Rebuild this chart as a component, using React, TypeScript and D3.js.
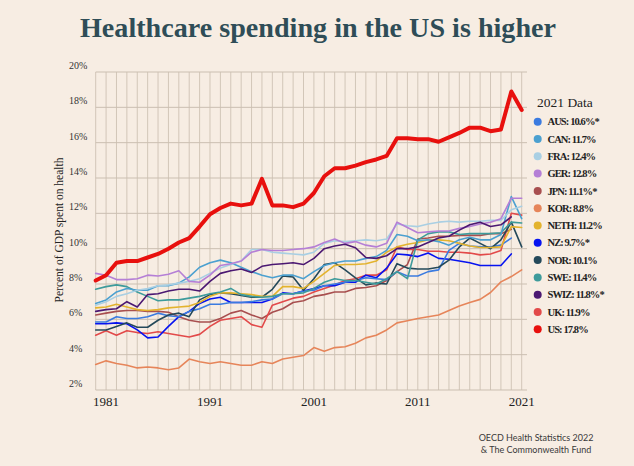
import React from "react";
import * as d3 from "d3";

const startYear = 1980;
const yTicks = [2, 4, 6, 8, 10, 12, 14, 16, 18, 20];
const xTickYears = [1981, 1991, 2001, 2011, 2021];

const countries = ["AUS", "CAN", "FRA", "GER", "JPN", "KOR", "NETH", "NZ", "NOR", "SWE", "SWIZ", "UK", "US"];
const legendLabels = ["AUS: 10.6%*", "CAN: 11.7%", "FRA: 12.4%", "GER: 12.8%", "JPN: 11.1%*", "KOR: 8.8%", "NETH: 11.2%", "NZ: 9.7%*", "NOR: 10.1%", "SWE: 11.4%", "SWIZ: 11.8%*", "UK: 11.9%", "US: 17.8%"];
const colors = ["#3b7be0", "#4ba0d0", "#a9cfe3", "#b57fd6", "#a84f4f", "#e6855a", "#e3b32e", "#0713f0", "#24495a", "#3e9b9b", "#4b1872", "#e24a4a", "#e8100e"];

// 1980 .. 2021 (series marked * end in 2020)
const AUS = [5.85, 5.85, 6.15, 6.05, 6.05, 6.15, 6.35, 6.2, 6.15, 6.45, 6.6, 6.85, 6.85, 6.95, 6.95, 7.0, 7.1, 7.15, 7.45, 7.45, 7.6, 7.65, 7.9, 8.0, 8.1, 8.2, 8.35, 8.3, 8.25, 8.7, 8.45, 8.45, 8.7, 8.8, 9.9, 10.3, 10.15, 10.1, 10.1, 10.2, 10.6];
const CAN = [6.9, 7.1, 7.55, 7.75, 7.65, 7.65, 7.9, 7.9, 8.05, 8.4, 8.95, 9.2, 9.35, 9.2, 8.95, 8.7, 8.5, 8.35, 8.5, 8.5, 8.3, 8.7, 9.05, 9.2, 9.3, 9.3, 9.45, 9.55, 9.9, 10.8, 10.7, 10.45, 10.5, 10.4, 10.2, 10.5, 10.65, 10.5, 10.5, 10.8, 12.95, 11.7];
const FRA = [6.8, 7.0, 7.3, 7.45, 7.65, 7.75, 7.9, 7.95, 8.05, 8.15, 8.3, 8.6, 8.9, 9.1, 9.3, 9.95, 9.95, 9.8, 9.75, 9.7, 9.65, 9.8, 10.3, 10.45, 10.4, 10.45, 10.5, 10.45, 10.55, 11.4, 11.3, 11.25, 11.4, 11.5, 11.55, 11.5, 11.55, 11.55, 11.6, 11.6, 12.2, 12.4];
const GER = [8.6, 8.5, 8.25, 8.25, 8.3, 8.5, 8.45, 8.55, 8.75, 8.15, 8.1, 8.5, 9.05, 9.15, 9.3, 9.8, 9.95, 9.9, 9.9, 9.95, 10.0, 10.1, 10.35, 10.55, 10.3, 10.4, 10.2, 10.1, 10.3, 11.5, 11.2, 10.9, 10.95, 11.0, 11.0, 11.15, 11.25, 11.4, 11.5, 11.7, 12.85, 12.85];
const JPN = [6.25, 6.35, 6.45, 6.5, 6.5, 6.45, 6.45, 6.4, 6.15, 5.95, 5.85, 5.85, 6.05, 6.35, 6.5, 6.25, 6.05, 6.4, 6.6, 6.95, 7.05, 7.3, 7.4, 7.55, 7.55, 7.75, 7.8, 7.9, 8.2, 8.7, 9.1, 10.55, 10.6, 10.7, 10.7, 10.75, 10.75, 10.75, 10.85, 10.85, 11.1];
const KOR = [3.45, 3.65, 3.5, 3.4, 3.25, 3.3, 3.25, 3.15, 3.25, 3.75, 3.6, 3.5, 3.6, 3.5, 3.4, 3.4, 3.6, 3.5, 3.75, 3.85, 3.95, 4.4, 4.2, 4.4, 4.45, 4.65, 4.95, 5.1, 5.4, 5.8, 5.92, 6.05, 6.15, 6.25, 6.5, 6.75, 6.95, 7.13, 7.52, 8.12, 8.42, 8.8];
const NETH = [6.65, 6.7, 6.85, 6.7, 6.55, 6.5, 6.55, 6.65, 6.7, 6.75, 6.95, 7.3, 7.5, 7.5, 7.45, 7.4, 7.3, 7.3, 7.85, 7.85, 7.75, 8.15, 8.6, 9.05, 9.1, 9.1, 9.15, 9.3, 9.8, 10.1, 10.25, 10.35, 10.5, 10.5, 10.45, 10.3, 10.15, 10.07, 10.07, 10.1, 11.25, 11.2];
const NZ = [5.75, 5.75, 5.8, 5.75, 5.4, 4.95, 5.0, 5.6, 6.15, 6.45, 6.9, 7.15, 7.25, 6.95, 6.95, 6.95, 6.95, 7.15, 7.5, 7.45, 7.6, 7.75, 7.9, 7.9, 8.1, 8.1, 8.5, 8.35, 8.9, 9.7, 9.65, 9.55, 9.75, 9.45, 9.4, 9.3, 9.2, 9.05, 9.05, 9.05, 9.7];
const NOR = [5.4, 5.4, 5.6, 5.8, 5.55, 5.55, 5.95, 6.25, 6.35, 6.15, 7.1, 7.4, 7.5, 7.45, 7.35, 7.25, 7.25, 7.7, 8.45, 8.4, 7.65, 8.3, 9.1, 9.2, 8.8, 8.35, 7.95, 8.05, 8.0, 9.15, 8.9, 8.85, 8.85, 8.95, 9.35, 10.1, 10.6, 10.3, 10.0, 10.5, 11.5, 10.1];
const SWE = [7.7, 7.85, 7.95, 7.85, 7.55, 7.3, 7.05, 7.1, 7.1, 7.2, 7.3, 7.45, 7.55, 7.75, 7.4, 7.3, 7.25, 7.3, 7.45, 7.45, 7.5, 7.75, 8.1, 8.3, 8.2, 8.2, 8.1, 8.0, 8.3, 8.7, 8.3, 10.5, 10.85, 10.95, 10.95, 10.8, 10.85, 10.85, 10.85, 10.9, 11.5, 11.45];
const SWIZ = [6.45, 6.55, 6.6, 7.0, 6.7, 7.4, 7.45, 7.6, 7.7, 7.7, 7.6, 8.15, 8.6, 8.75, 8.85, 8.65, 9.0, 9.1, 9.15, 9.2, 9.1, 9.45, 10.0, 10.15, 10.25, 10.05, 9.5, 9.45, 9.6, 10.0, 10.0, 10.1, 10.35, 10.6, 10.7, 11.05, 11.35, 11.5, 11.25, 11.35, 11.8];
const UK = [5.1, 5.35, 5.1, 5.35, 5.25, 5.2, 5.3, 5.2, 5.1, 5.0, 5.15, 5.6, 5.95, 6.05, 6.15, 5.7, 5.55, 6.8, 7.0, 7.2, 7.3, 7.55, 7.75, 7.95, 8.2, 8.3, 8.5, 8.5, 8.8, 10.1, 9.95, 9.95, 9.85, 9.85, 9.8, 9.8, 9.75, 9.65, 9.7, 9.9, 12.0, 11.9];
const US = [8.2, 8.5, 9.2, 9.3, 9.3, 9.5, 9.7, 10.0, 10.35, 10.6, 11.25, 11.95, 12.3, 12.55, 12.45, 12.55, 13.95, 12.45, 12.45, 12.35, 12.55, 13.15, 14.1, 14.55, 14.55, 14.7, 14.9, 15.05, 15.25, 16.25, 16.25, 16.2, 16.2, 16.05, 16.3, 16.55, 16.85, 16.85, 16.65, 16.75, 18.9, 17.85];

const seriesValues = [AUS, CAN, FRA, GER, JPN, KOR, NETH, NZ, NOR, SWE, SWIZ, UK, US];
const drawOrder = [5, 4, 11, 7, 0, 8, 6, 9, 1, 2, 3, 10, 12];

const W = 634;
const H = 466;
const BG = "#f7ede3";

export default function App() {
  const x = d3.scaleLinear().domain([1980, 2021]).range([95.7, 521.7]);
  const y = d3.scaleLinear().domain([2, 20]).range([390, 72]);
  const years = d3.range(1980, 2022);
  const line = d3
    .line<number>()
    .x((_, i) => x(startYear + i))
    .y((d) => y(d));

  const serif = "'Liberation Serif', 'DejaVu Serif', serif";

  return (
    <svg
      width={W}
      height={H}
      style={{ position: "absolute", left: 0, top: 0, background: BG }}
    >
      <rect x={0} y={0} width={W} height={H} fill={BG} />
      <text
        x={318}
        y={37}
        textAnchor="middle"
        fontFamily={serif}
        fontWeight="bold"
        fontSize={28}
        fill="#2f4d57"
        textLength={476}
        lengthAdjust="spacingAndGlyphs"
      >
        Healthcare spending in the US is higher
      </text>

      {/* vertical grid */}
      {years.map((yr) => (
        <line
          key={"v" + yr}
          x1={x(yr)}
          x2={x(yr)}
          y1={y(20)}
          y2={y(2)}
          stroke="#d2c6b8"
          strokeWidth={1}
        />
      ))}
      {/* horizontal grid */}
      {yTicks.map((t) => (
        <line
          key={"h" + t}
          x1={x(1980)}
          x2={527}
          y1={y(t)}
          y2={y(t)}
          stroke="#cbbfb1"
          strokeWidth={1}
        />
      ))}
      {yTicks.map((t) => (
        <text
          key={"yl" + t}
          x={69}
          y={y(t) - 3}
          fontFamily={serif}
          fontSize={10}
          fill="#333"
        >
          {t}%
        </text>
      ))}
      {xTickYears.map((yr) => (
        <text
          key={"xl" + yr}
          x={x(yr)}
          y={406}
          textAnchor="middle"
          fontFamily={serif}
          fontSize={13}
          fill="#222"
        >
          {yr}
        </text>
      ))}
      <text
        transform="translate(63,230) rotate(-90)"
        textAnchor="middle"
        fontFamily={serif}
        fontSize={11.5}
        fill="#222"
      >
        Percent of GDP spent on health
      </text>

      {drawOrder.map((i) => (
        <path
          key={countries[i]}
          d={line(seriesValues[i]) || ""}
          fill="none"
          stroke={colors[i]}
          strokeWidth={countries[i] === "US" ? 4 : 1.6}
          strokeLinejoin="round"
          strokeLinecap="round"
        />
      ))}

      {/* legend */}
      <text x={537} y={107} fontFamily={serif} fontSize={13.5} fill="#222">
        2021 Data
      </text>
      {countries.map((c, i) => (
        <g key={"lg" + c} transform={`translate(0, ${121.7 + i * 17.3})`}>
          <circle cx={537.7} cy={0} r={4} fill={colors[i]} />
          <text
            x={547.5}
            y={0}
            dy="0.35em"
            fontFamily={serif}
            fontWeight="bold"
            fontSize={10.5}
            letterSpacing={-0.9}
            fill="#222"
          >
            {legendLabels[i]}
          </text>
        </g>
      ))}

      <text x={536} y={441} textAnchor="middle" fontFamily="Lato, 'Open Sans', sans-serif" fontSize={9} fill="#3a3a3a">
        OECD Health Statistics 2022
      </text>
      <text x={536} y={452.5} textAnchor="middle" fontFamily="Lato, 'Open Sans', sans-serif" fontSize={9} fill="#3a3a3a">
        &amp; The Commonwealth Fund
      </text>
    </svg>
  );
}
